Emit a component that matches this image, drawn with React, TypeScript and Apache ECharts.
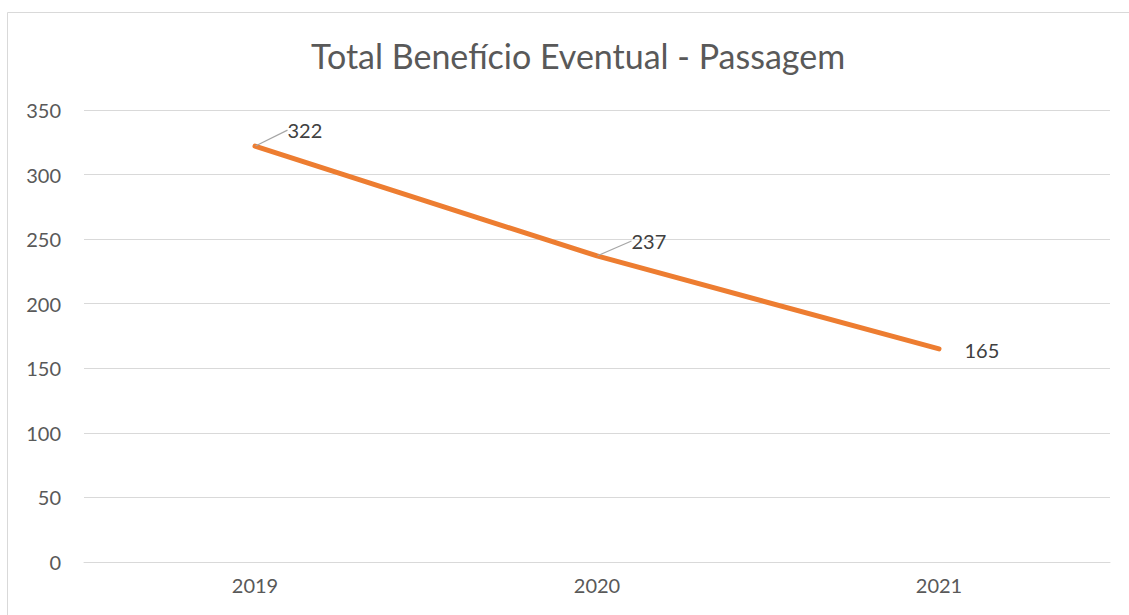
import React, { useEffect, useRef } from "react";
import * as echarts from "echarts";

const categories = ["2019", "2020", "2021"];
const values = [322, 237, 165];
const showLeader = [true, true, false];
const yTicks = [0, 50, 100, 150, 200, 250, 300, 350];
const labelShift = [
  { dx: 27, dy: -16 },
  { dx: 29, dy: -15 },
  { dx: 20, dy: 1 },
];

const FONT = "Lato, 'Open Sans', sans-serif";

export default function App() {
  const ref = useRef<HTMLDivElement>(null);
  useEffect(() => {
    document.body.style.margin = "0";
    const chart = echarts.init(ref.current!, null, { renderer: "svg" });
    chart.setOption({
      animation: false,
      backgroundColor: "#ffffff",
      title: {
        text: "Total Benefício Eventual - Passagem",
        left: 306,
        top: 33,
        textStyle: { fontFamily: FONT, fontSize: 34, fontWeight: "normal", color: "#595959" },
      },
      graphic: [
        {
          type: "rect",
          shape: { x: 7.5, y: 12.5, width: 1140, height: 620 },
          style: { fill: "none", stroke: "#d9d9d9", lineWidth: 1 },
          silent: true,
        },
      ],
      grid: { left: 84, right: 19, top: 110, bottom: 53 },
      xAxis: {
        type: "category",
        data: categories,
        boundaryGap: true,
        axisLine: { show: true, lineStyle: { color: "#d9d9d9", width: 1 } },
        axisTick: { show: false },
        axisLabel: { fontFamily: FONT, fontSize: 20, color: "#595959", margin: 13 },
      },
      yAxis: {
        type: "value",
        min: yTicks[0],
        max: yTicks[yTicks.length - 1],
        interval: 50,
        axisLine: { show: false },
        axisTick: { show: false },
        axisLabel: { fontFamily: FONT, fontSize: 20, color: "#595959", margin: 23 },
        splitLine: { lineStyle: { color: "#d9d9d9", width: 1 } },
      },
      series: [
        {
          type: "line",
          data: values.map((v, i) => ({ value: v, labelLine: { show: showLeader[i] } })),
          symbol: "circle",
          symbolSize: 1,
          showSymbol: true,
          lineStyle: { color: "#ED7D31", width: 5, cap: "round" },
          itemStyle: { color: "#ED7D31" },
          label: {
            show: true,
            position: "right",
            distance: 5,
            fontFamily: FONT,
            fontSize: 20,
            color: "#404040",
          },
          labelLine: { show: true, lineStyle: { color: "#a6a6a6", width: 1.2 } },
          labelLayout: (p: any) => labelShift[p.dataIndex],
        },
      ],
    });
    return () => chart.dispose();
  }, []);
  return <div ref={ref} style={{ width: 1129, height: 615 }} />;
}
